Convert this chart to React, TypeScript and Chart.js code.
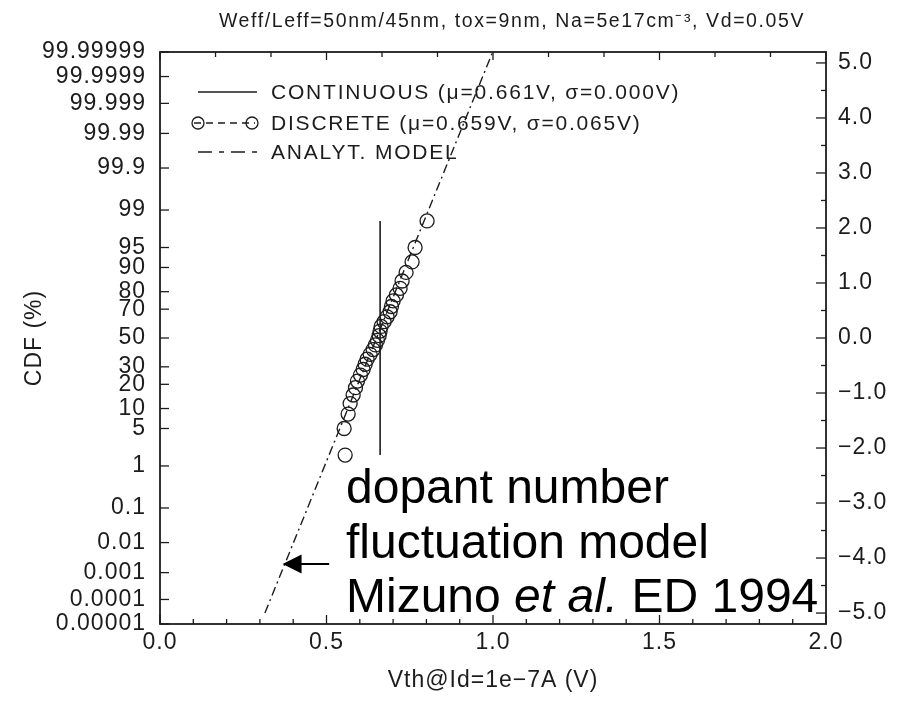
import React, { useEffect, useRef } from 'react';
import { Chart, registerables } from 'chart.js';

Chart.register(...registerables);

// ---- data ----
const discreteVth = [0.556, 0.553, 0.565, 0.571, 0.580, 0.587, 0.593, 0.602, 0.610, 0.616, 0.622, 0.631, 0.640, 0.647, 0.653, 0.658, 0.661, 0.664, 0.673, 0.682, 0.691, 0.695, 0.700, 0.710, 0.721, 0.727, 0.739, 0.757, 0.766, 0.802];
const discreteSigma = [-2.128, -1.645, -1.383, -1.192, -1.036, -0.903, -0.783, -0.674, -0.573, -0.477, -0.385, -0.297, -0.210, -0.126, -0.042, 0.042, 0.126, 0.210, 0.297, 0.385, 0.477, 0.573, 0.674, 0.783, 0.903, 1.036, 1.192, 1.383, 1.645, 2.128];
const continuousVth = [0.661, 0.661];
const continuousSigma = [-2.128, 2.128];
const modelVth = [0.315, 0.999];
const modelSigma = [-5.0, 5.199];

const cdfTickSigma = [-5.199, -4.753, -4.265, -3.719, -3.090, -2.326, -1.645, -1.282, -0.842, -0.524, 0, 0.524, 0.842, 1.282, 1.645, 2.326, 3.090, 3.719, 4.265, 4.753, 5.199];
const cdfTickLabels = ['0.00001', '0.0001', '0.001', '0.01', '0.1', '1', '5', '10', '20', '30', '50', '70', '80', '90', '95', '99', '99.9', '99.99', '99.999', '99.9999', '99.99999'];
const sigmaTicks = [-5, -4, -3, -2, -1, 0, 1, 2, 3, 4, 5];
const sigmaMinorTicks = [-4.5, -3.5, -2.5, -1.5, -0.5, 0.5, 1.5, 2.5, 3.5, 4.5];
const vthTicks = [0, 0.5, 1.0, 1.5, 2.0];
const vthMinorTicksBottom = [0.1, 0.2, 0.3, 0.4, 0.6, 0.7, 0.8, 0.9, 1.1, 1.2, 1.3, 1.4, 1.6, 1.7, 1.8, 1.9];
const vthMinorTicksTop = [0.1667, 0.3333, 0.6667, 0.8333, 1.1667, 1.3333, 1.6667, 1.8333];

const legendLabels = ['CONTINUOUS (\u03bc=0.661V, \u03c3=0.000V)', 'DISCRETE (\u03bc=0.659V, \u03c3=0.065V)', 'ANALYT. MODEL'];
const titleText = 'Weff/Leff=50nm/45nm, tox=9nm, Na=5e17cm\u207b\u00b3, Vd=0.05V';
const xTitle = 'Vth@Id=1e\u22127A (V)';
const yTitle = 'CDF (%)';
const annotationLines = ['dopant number', 'fluctuation model'];

const FONT = "'Liberation Sans', Arial, Helvetica, sans-serif";
const INK = '#1c1c1c';
const SPACING = '1px';

const fmtSigma = (v: number) => (v < 0 ? '\u2212' + Math.abs(v).toFixed(1) : v.toFixed(1));

const spacingPlugin = {
  id: 'psSpacing',
  beforeDraw(chart: any) { (chart.ctx as any).letterSpacing = SPACING; },
  afterDraw(chart: any) { (chart.ctx as any).letterSpacing = '0px'; },
};

const framePlugin = {
  id: 'frameTicks',
  afterDatasetsDraw(chart: any) {
    const { ctx, chartArea: a, scales } = chart;
    const sx = scales.x, sy = scales.y, sy2 = scales.y2;
    ctx.save();
    ctx.strokeStyle = INK;
    ctx.lineWidth = 1.8;
    ctx.strokeRect(a.left, a.top, a.right - a.left, a.bottom - a.top);
    ctx.lineWidth = 1.3;
    const seg = (x1: number, y1: number, x2: number, y2: number) => {
      ctx.beginPath(); ctx.moveTo(x1, y1); ctx.lineTo(x2, y2); ctx.stroke();
    };
    vthTicks.forEach((v) => { const p = sx.getPixelForValue(v); seg(p, a.bottom, p, a.bottom - 9); seg(p, a.top, p, a.top + 8); });
    vthMinorTicksBottom.forEach((v) => { const p = sx.getPixelForValue(v); seg(p, a.bottom, p, a.bottom - 5); });
    vthMinorTicksTop.forEach((v) => { const p = sx.getPixelForValue(v); seg(p, a.top, p, a.top + 5); });
    cdfTickSigma.forEach((v) => { const p = sy.getPixelForValue(v); seg(a.left, p, a.left + 9, p); });
    sigmaTicks.forEach((v) => { const p = sy2.getPixelForValue(v); seg(a.right, p, a.right - 10, p); });
    sigmaMinorTicks.forEach((v) => { const p = sy2.getPixelForValue(v); seg(a.right, p, a.right - 5, p); });
    // title
    ctx.fillStyle = INK;
    ctx.letterSpacing = '1.6px';
    ctx.font = `19.5px ${FONT}`;
    ctx.textAlign = 'center';
    ctx.textBaseline = 'middle';
    ctx.fillText(titleText, 512, 22);
    ctx.restore();
  },
};

const legendPlugin = {
  id: 'insetLegend',
  afterDatasetsDraw(chart: any) {
    const { ctx, chartArea: a } = chart;
    const x0 = a.left + 38, x1 = a.left + 97, tx = a.left + 111;
    const rows = [a.top + 40, a.top + 71, a.top + 100];
    ctx.save();
    ctx.strokeStyle = INK;
    ctx.fillStyle = INK;
    ctx.font = `21px ${FONT}`;
    ctx.letterSpacing = '1.8px';
    ctx.textBaseline = 'middle';
    ctx.textAlign = 'left';
    // continuous
    ctx.lineWidth = 1.6;
    ctx.beginPath(); ctx.moveTo(x0, rows[0]); ctx.lineTo(x1, rows[0]); ctx.stroke();
    // discrete
    ctx.lineWidth = 1.3;
    ctx.setLineDash([7, 5]);
    ctx.beginPath(); ctx.moveTo(x0 - 4, rows[1]); ctx.lineTo(x1 - 2, rows[1]); ctx.stroke();
    ctx.setLineDash([]);
    [x0, x1 - 5].forEach((cx) => { ctx.beginPath(); ctx.arc(cx, rows[1], 6, 0, Math.PI * 2); ctx.stroke(); });
    // model
    ctx.setLineDash([14, 7, 5, 7]);
    ctx.beginPath(); ctx.moveTo(x0, rows[2]); ctx.lineTo(x1, rows[2]); ctx.stroke();
    ctx.setLineDash([]);
    legendLabels.forEach((t, i) => ctx.fillText(t, tx, rows[i] + 1));
    ctx.restore();
  },
};

const annotationPlugin = {
  id: 'annotation',
  afterDatasetsDraw(chart: any) {
    const { ctx, scales } = chart;
    const sx = scales.x, sy = scales.y;
    const x = sx.getPixelForValue(0.5586);
    const base = [sy.getPixelForValue(-3.0), sy.getPixelForValue(-4.0), sy.getPixelForValue(-4.981)];
    ctx.save();
    ctx.letterSpacing = '0px';
    ctx.fillStyle = '#000';
    ctx.textBaseline = 'alphabetic';
    ctx.textAlign = 'left';
    ctx.font = `48px ${FONT}`;
    ctx.fillText(annotationLines[0], x, base[0]);
    ctx.fillText(annotationLines[1], x, base[1]);
    let cx = x;
    const parts: [string, string][] = [['Mizuno ', 'normal'], ['et al.', 'italic'], [' ED 1994', 'normal']];
    parts.forEach(([t, st]) => {
      ctx.font = `${st} 48px ${FONT}`;
      ctx.fillText(t, cx, base[2]);
      cx += ctx.measureText(t).width;
    });
    // arrow
    const tipX = sx.getPixelForValue(0.368), tailX = sx.getPixelForValue(0.508), ay = sy.getPixelForValue(-4.109);
    ctx.strokeStyle = '#000';
    ctx.lineWidth = 2;
    ctx.beginPath(); ctx.moveTo(tailX, ay); ctx.lineTo(tipX + 12, ay); ctx.stroke();
    ctx.beginPath(); ctx.moveTo(tipX, ay); ctx.lineTo(tipX + 19, ay - 9.5); ctx.lineTo(tipX + 19, ay + 9.5); ctx.closePath(); ctx.fill();
    ctx.restore();
  },
};

export default function App() {
  const ref = useRef<HTMLCanvasElement | null>(null);
  useEffect(() => {
    if (!ref.current) return;
    const pts = (xs: number[], ys: number[]) => xs.map((v, i) => ({ x: v, y: ys[i] }));
    const tickFont = { family: FONT, size: 23 };
    const axisTitleFont = { family: FONT, size: 23 };
    const chart = new Chart(ref.current, {
      type: 'scatter',
      data: {
        datasets: [
          { label: 'CONTINUOUS', data: pts(continuousVth, continuousSigma), showLine: true, borderColor: INK, borderWidth: 1.6, pointRadius: 0, yAxisID: 'y' },
          { label: 'DISCRETE', data: pts(discreteVth, discreteSigma), showLine: false, pointRadius: 7, pointBorderWidth: 1.3, pointBackgroundColor: 'rgba(0,0,0,0)', pointBorderColor: INK, yAxisID: 'y' },
          { label: 'ANALYT. MODEL', data: pts(modelVth, modelSigma), showLine: true, borderColor: INK, borderWidth: 1.4, borderDash: [9, 4, 2, 4], pointRadius: 0, yAxisID: 'y' },
        ],
      } as any,
      options: {
        animation: false,
        responsive: false,
        devicePixelRatio: 1,
        layout: { padding: { top: 52, left: 0, right: 0, bottom: 0 } },
        plugins: {
          legend: { display: false },
          tooltip: { enabled: false },
          title: { display: false, text: titleText },
        },
        scales: {
          x: {
            type: 'linear', position: 'bottom', min: 0, max: 2,
            afterBuildTicks: (s: any) => { s.ticks = vthTicks.map((v) => ({ value: v })); },
            afterFit: (s: any) => { s.height = 79; },
            ticks: { callback: (v: any) => Number(v).toFixed(1), font: tickFont, color: INK, padding: 5, maxRotation: 0, autoSkip: false },
            grid: { display: false, drawTicks: false },
            border: { display: false },
            title: { display: true, text: xTitle, color: INK, font: axisTitleFont, padding: { top: 0, bottom: 9 } },
          },
          y: {
            type: 'linear', position: 'left', min: -5.199, max: 5.199,
            afterBuildTicks: (s: any) => { s.ticks = cdfTickSigma.map((v) => ({ value: v })); },
            afterFit: (s: any) => { s.width = 160; },
            ticks: { callback: (_v: any, i: number) => cdfTickLabels[i], font: tickFont, color: INK, padding: 14, autoSkip: false },
            grid: { display: false, drawTicks: false },
            border: { display: false },
            title: { display: true, text: yTitle, color: INK, font: axisTitleFont, padding: { top: 21, bottom: 0 } },
          },
          y2: {
            type: 'linear', position: 'right', min: -5.199, max: 5.199,
            afterBuildTicks: (s: any) => { s.ticks = sigmaTicks.map((v) => ({ value: v })); },
            afterFit: (s: any) => { s.width = 90; },
            ticks: { callback: (v: any) => fmtSigma(Number(v)), font: tickFont, color: INK, padding: 12, autoSkip: false },
            grid: { display: false, drawTicks: false },
            border: { display: false },
          },
        },
      } as any,
      plugins: [spacingPlugin, framePlugin, legendPlugin, annotationPlugin],
    });
    return () => chart.destroy();
  }, []);
  return (
    <div style={{ position: 'absolute', left: 0, top: 0, width: 916, height: 703, background: '#fff' }}>
      <canvas ref={ref} width={916} height={703} />
    </div>
  );
}
